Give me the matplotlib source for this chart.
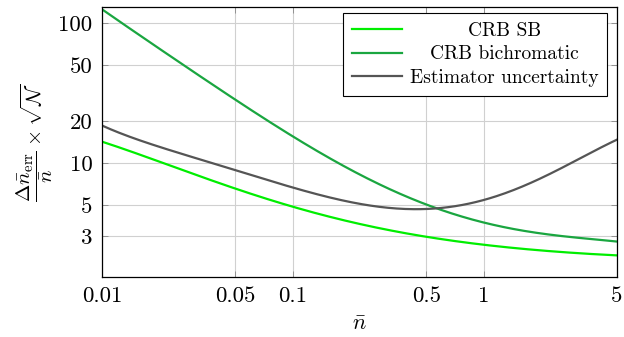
import numpy as np
import matplotlib.pyplot as plt
from matplotlib.ticker import FixedLocator, FixedFormatter, NullLocator

plt.rcParams['font.family'] = 'serif'
plt.rcParams['font.serif'] = ['cmr10', 'DejaVu Serif']
plt.rcParams['mathtext.fontset'] = 'cm'
plt.rcParams['axes.unicode_minus'] = False

# values
n_bar = [0.01, 0.02, 0.03, 0.05, 0.1, 0.2, 0.5, 1, 2, 3, 5]
crb_sb = [14.2, 10.2, 8.34, 6.55, 4.93, 3.74, 2.97, 2.62, 2.37, 2.26, 2.19]
crb_bi = [125, 65.9, 45.2, 28.0, 15.3, 9.2, 5.0, 3.71, 3.18, 2.92, 2.74]
est_unc = [18.4, 13.3, 10.96, 8.65, 6.6, 5.5, 4.55, 5.44, 7.78, 10.4, 14.6]

xticks = [0.01, 0.05, 0.1, 0.5, 1, 5]
xticklabels = ['0.01', '0.05', '0.1', '0.5', '1', '5']
yticks = [3, 5, 10, 20, 50, 100]
yticklabels = ['3', '5', '10', '20', '50', '100']

# smooth in log-log space
lx = np.log10(n_bar)
xs = np.logspace(-2, np.log10(5), 300)
def smooth(vals):
    coef = np.polyfit(lx, np.log10(vals), 5)
    return 10 ** np.polyval(coef, np.log10(xs))

fig = plt.figure(figsize=(6.24, 3.37), dpi=100)
ax = fig.add_axes([0.1635, 0.178, 0.8253, 0.801])

ax.plot(xs, smooth(crb_sb), color='#00ee00', lw=1.6, label='CRB SB')
ax.plot(xs, smooth(crb_bi), color='#1aa640', lw=1.6, label='CRB bichromatic')
ax.plot(xs, smooth(est_unc), color='#555555', lw=1.6, label='Estimator uncertainty')

ax.set_xscale('log')
ax.set_yscale('log')
ax.set_xlim(0.01, 5)
ax.set_ylim(1.53, 130)

ax.xaxis.set_major_locator(FixedLocator(xticks))
ax.xaxis.set_major_formatter(FixedFormatter(xticklabels))
ax.xaxis.set_minor_locator(NullLocator())
ax.yaxis.set_major_locator(FixedLocator(yticks))
ax.yaxis.set_major_formatter(FixedFormatter(yticklabels))
ax.yaxis.set_minor_locator(NullLocator())

ax.tick_params(direction='in', top=True, right=True, length=4, width=0.6,
               color='#888888', labelsize=16.5, pad=7)
ax.grid(True, color='#d0d0d0', lw=0.8)
for s in ax.spines.values():
    s.set_linewidth(0.9)

ax.set_xlabel(r'$\bar{n}$', fontsize=16, labelpad=6)
ax.set_ylabel(r'$\dfrac{\Delta\bar{n}_{\mathrm{err}}}{\bar{n}}\times\sqrt{\mathcal{N}}$',
              fontsize=15, labelpad=2)

leg = ax.legend(loc='upper right', fontsize=14, fancybox=False, framealpha=1,
                edgecolor='black', handlelength=2.6, handletextpad=0.4,
                borderpad=0.45, labelspacing=0.3, borderaxespad=0,
                bbox_to_anchor=(0.981, 0.978))
leg.get_frame().set_linewidth(0.8)

# center the legend texts like pgfplots does
fig.canvas.draw()
widths = [t.get_window_extent().width for t in leg.get_texts()]
for t, w in zip(leg.get_texts(), widths):
    t.set_x((max(widths) - w) / 2)

fig.savefig('out.png', dpi=100)
